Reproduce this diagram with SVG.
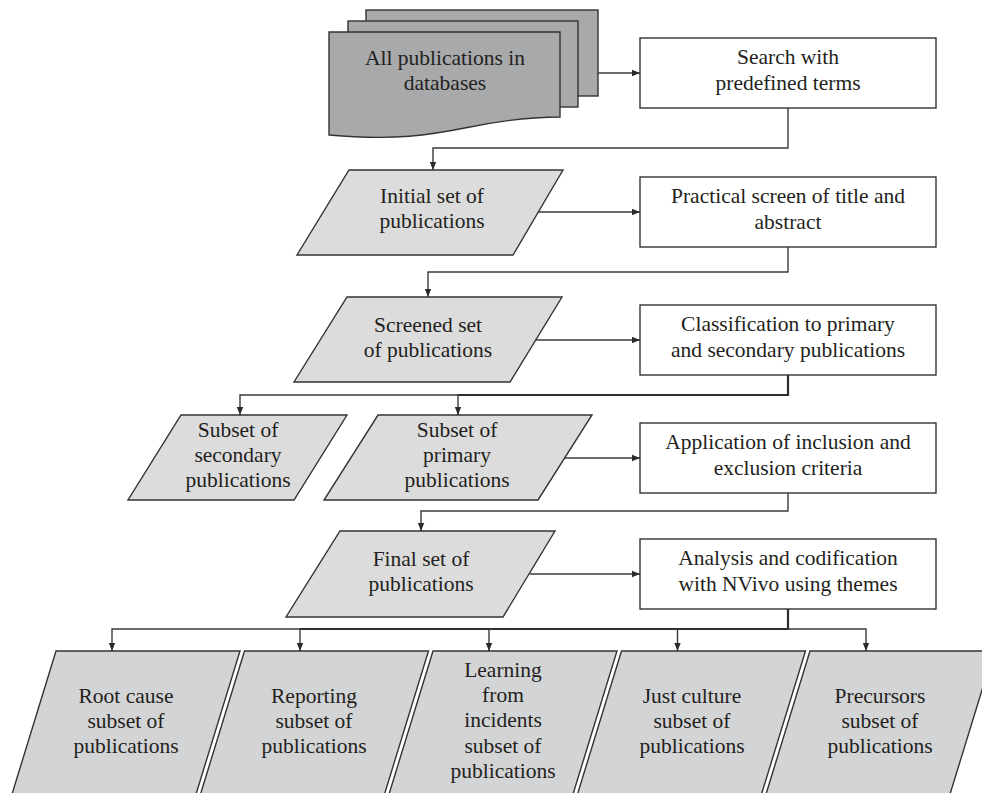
<svg xmlns="http://www.w3.org/2000/svg" width="982" height="793" viewBox="0 0 982 793">
  <defs>
    <marker id="arrow" markerUnits="userSpaceOnUse" markerWidth="10" markerHeight="10" viewBox="0 0 10 10" refX="9" refY="5" orient="auto">
      <path d="M1,1.8 L9,5 L1,8.2 Z" fill="#2b2b2b"/>
    </marker>
    <style>
      .lbl { font-family: "Liberation Serif", "Times New Roman", serif; font-size: 21.5px; fill: #231f20; text-anchor: middle; }
      .box { fill: #ffffff; stroke: #333333; stroke-width: 1.4; }
      .set { fill: #dcdcdd; stroke: #333333; stroke-width: 1.4; stroke-linejoin: miter; }
      .theme { fill: #d3d4d5; stroke: #333333; stroke-width: 1.4; }
      .doc { fill: #a8a9ab; stroke: #333333; stroke-width: 1.4; }
      .wire { fill: none; stroke: #3a3a3a; stroke-width: 1.4; }
      .trunk { fill: none; stroke: #2e2e2e; stroke-width: 2.2; }
    </style>
  </defs>

  <!-- stacked documents -->
  <g id="all-publications">
    <rect class="doc" x="366" y="10" width="232" height="86"/>
    <rect class="doc" x="348" y="21" width="230" height="86"/>
    <path class="doc" d="M329,32 H560 V117 C530,117 500,121 470,127 C430,135 395,141 329,135 Z"/>
    <text class="lbl" x="445" y="65">All publications in</text>
    <text class="lbl" x="445" y="90">databases</text>
  </g>

  <!-- process boxes -->
  <g id="search">
    <rect class="box" x="640" y="38" width="296" height="70"/>
    <text class="lbl" x="788" y="64">Search with</text>
    <text class="lbl" x="788" y="90">predefined terms</text>
  </g>
  <g id="screen">
    <rect class="box" x="640" y="177" width="296" height="70"/>
    <text class="lbl" x="788" y="203">Practical screen of title and</text>
    <text class="lbl" x="788" y="229">abstract</text>
  </g>
  <g id="classification">
    <rect class="box" x="640" y="305" width="296" height="70"/>
    <text class="lbl" x="788" y="331">Classification to primary</text>
    <text class="lbl" x="788" y="357">and secondary publications</text>
  </g>
  <g id="criteria">
    <rect class="box" x="640" y="423" width="296" height="70"/>
    <text class="lbl" x="788" y="449">Application of inclusion and</text>
    <text class="lbl" x="788" y="475">exclusion criteria</text>
  </g>
  <g id="analysis">
    <rect class="box" x="640" y="539" width="296" height="70"/>
    <text class="lbl" x="788" y="565">Analysis and codification</text>
    <text class="lbl" x="788" y="591">with NVivo using themes</text>
  </g>

  <!-- publication sets -->
  <g id="initial-set">
    <polygon class="set" points="349,170 563,170 513,255 297,255"/>
    <text class="lbl" x="432" y="203">Initial set of</text>
    <text class="lbl" x="432" y="228">publications</text>
  </g>
  <g id="screened-set">
    <polygon class="set" points="347,297 562,297 510,382 294,382"/>
    <text class="lbl" x="428" y="332">Screened set</text>
    <text class="lbl" x="428" y="357">of publications</text>
  </g>
  <g id="secondary-subset">
    <polygon class="set" points="181,415 347,415 294,500 128,500"/>
    <text class="lbl" x="238" y="437">Subset of</text>
    <text class="lbl" x="238" y="462">secondary</text>
    <text class="lbl" x="238" y="487">publications</text>
  </g>
  <g id="primary-subset">
    <polygon class="set" points="378,415 592,415 538,500 324,500"/>
    <text class="lbl" x="457" y="437">Subset of</text>
    <text class="lbl" x="457" y="462">primary</text>
    <text class="lbl" x="457" y="487">publications</text>
  </g>
  <g id="final-set">
    <polygon class="set" points="340,531 555,531 503,617 286,617"/>
    <text class="lbl" x="421" y="566">Final set of</text>
    <text class="lbl" x="421" y="591">publications</text>
  </g>

  <!-- theme subsets -->
  <g id="root-cause">
    <polygon class="theme" points="56,651 240,651 185,830 1,830"/>
    <text class="lbl" x="126" y="703">Root cause</text>
    <text class="lbl" x="126" y="728">subset of</text>
    <text class="lbl" x="126" y="753">publications</text>
  </g>
  <g id="reporting">
    <polygon class="theme" points="244.5,651 428.5,651 373.5,830 189.5,830"/>
    <text class="lbl" x="314" y="703">Reporting</text>
    <text class="lbl" x="314" y="728">subset of</text>
    <text class="lbl" x="314" y="753">publications</text>
  </g>
  <g id="learning">
    <polygon class="theme" points="433,651 617,651 562,830 378,830"/>
    <text class="lbl" x="503" y="677">Learning</text>
    <text class="lbl" x="503" y="702">from</text>
    <text class="lbl" x="503" y="727">incidents</text>
    <text class="lbl" x="503" y="753">subset of</text>
    <text class="lbl" x="503" y="778">publications</text>
  </g>
  <g id="just-culture">
    <polygon class="theme" points="621.5,651 805.5,651 750.5,830 566.5,830"/>
    <text class="lbl" x="692" y="703">Just culture</text>
    <text class="lbl" x="692" y="728">subset of</text>
    <text class="lbl" x="692" y="753">publications</text>
  </g>
  <g id="precursors">
    <polygon class="theme" points="810,651 994,651 939,830 755,830"/>
    <text class="lbl" x="880" y="703">Precursors</text>
    <text class="lbl" x="880" y="728">subset of</text>
    <text class="lbl" x="880" y="753">publications</text>
  </g>

  <!-- connectors -->
  <g id="connectors">
    <path class="wire" d="M598,73 H640" marker-end="url(#arrow)"/>
    <path class="wire" d="M788,108 V148 H433 V170" marker-end="url(#arrow)"/>
    <path class="wire" d="M538,212 H640" marker-end="url(#arrow)"/>
    <path class="wire" d="M788,247 V272 H428 V297" marker-end="url(#arrow)"/>
    <path class="wire" d="M536,340 H640" marker-end="url(#arrow)"/>
    <path class="trunk" d="M788,375 V395 H458"/>
    <path class="wire" d="M458,395 H240 V415" marker-end="url(#arrow)"/>
    <path class="wire" d="M458,395 V415" marker-end="url(#arrow)"/>
    <path class="wire" d="M565,458 H640" marker-end="url(#arrow)"/>
    <path class="wire" d="M788,493 V511 H421 V531" marker-end="url(#arrow)"/>
    <path class="wire" d="M530,574 H640" marker-end="url(#arrow)"/>
    <path class="trunk" d="M788,609 V629 H300"/>
    <path class="wire" d="M300,629 H112 V651" marker-end="url(#arrow)"/>
    <path class="wire" d="M300,629 V651" marker-end="url(#arrow)"/>
    <path class="wire" d="M489,629 V651" marker-end="url(#arrow)"/>
    <path class="wire" d="M677.5,629 V651" marker-end="url(#arrow)"/>
    <path class="wire" d="M788,629 H866 V651" marker-end="url(#arrow)"/>
  </g>
</svg>
